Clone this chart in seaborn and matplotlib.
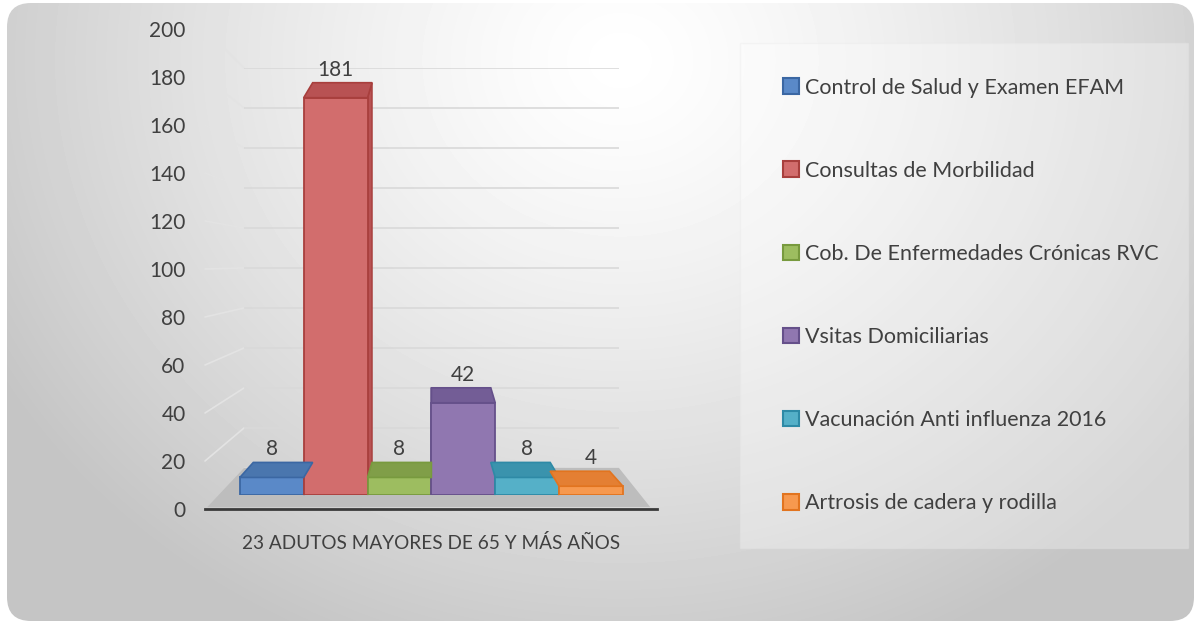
import numpy as np
import pandas as pd
import matplotlib
import matplotlib.pyplot as plt
import seaborn as sns
from matplotlib.patches import FancyBboxPatch, Rectangle, Polygon, Patch
from matplotlib.lines import Line2D

# data
grupo = "23 ADUTOS MAYORES DE 65 Y MÁS AÑOS"
series = ["Control de Salud y Examen EFAM", "Consultas de Morbilidad",
          "Cob. De Enfermedades Crónicas RVC", "Vsitas Domiciliarias",
          "Vacunación Anti influenza 2016", "Artrosis de cadera y rodilla"]
valores = [8, 181, 8, 42, 8, 4]
y_ticks = list(range(0, 201, 20))

colores = ["#5A89C8", "#D26D6D", "#9DBD60", "#9077B0", "#55B0C8", "#F7994F"]
bordes = ["#3B67A3", "#A83F3D", "#789A3E", "#65508A", "#2E8AA6", "#E2741F"]
caras = ["#4A76AE", "#B85253", "#809E48", "#735D96", "#3A93AD", "#E47F33"]

df = pd.DataFrame({"grupo": grupo, "serie": series, "valor": valores})

sns.set_style("white")
plt.rcParams["font.family"] = ["Lato", "DejaVu Sans"]
txt = "#404040"
fs = 15

W, H = 1199, 626
fig = plt.figure(figsize=(W / 100, H / 100), dpi=100)


def box(x0, y0, x1, y1):
    # pixel box -> figure fraction [left, bottom, width, height]
    return [x0 / W, 1 - y1 / H, (x1 - x0) / W, (y1 - y0) / H]


# background: rounded panel with a soft radial gradient
ax_bg = fig.add_axes([0, 0, 1, 1], zorder=-10)
ax_bg.set_xlim(0, W)
ax_bg.set_ylim(H, 0)
ax_bg.axis("off")
gx, gy = np.meshgrid(np.arange(W), np.arange(H))
d = np.sqrt(((gx - 620) / 720) ** 2 + ((gy - 60) / 640) ** 2)
grad = np.clip(1.0 - 0.23 * d ** 1.3, 0.77, 1.0)
im = ax_bg.imshow(grad, cmap="gray", vmin=0, vmax=1, extent=(0, W, H, 0), aspect="auto")
panel = FancyBboxPatch((7, 3), W - 12, H - 8, boxstyle="round,pad=0,rounding_size=24",
                       transform=ax_bg.transData, facecolor="none", edgecolor="none")
ax_bg.add_patch(panel)
im.set_clip_path(panel)

# legend area
ax_bg.add_patch(Rectangle((740, 43), 448, 505, facecolor="white", alpha=0.3,
                          edgecolor="#e8e8e8", lw=1))

# back wall with gridlines
ax_wall = fig.add_axes(box(244, 68, 619, 468))
ax_wall.set_ylim(0, 200)
ax_wall.set_xlim(0, 1)
ax_wall.set_yticks(y_ticks)
ax_wall.grid(axis="y", color="#d9d9d9", lw=1.2)
ax_wall.set_xticks([])
ax_wall.tick_params(left=False, labelleft=False)
ax_wall.patch.set_alpha(0)
sns.despine(ax=ax_wall, left=True, bottom=True)

# tick axis (front)
ax_tick = fig.add_axes(box(205, 29, 657, 509))
ax_tick.set_ylim(0, 200)
ax_tick.set_yticks(y_ticks)
ax_tick.set_yticklabels([str(v) for v in y_ticks], fontsize=fs, color=txt)
ax_tick.tick_params(axis="y", length=0, pad=14)
ax_tick.set_xticks([])
ax_tick.patch.set_alpha(0)
sns.despine(ax=ax_tick, left=True)
ax_tick.spines["bottom"].set_color("#3a3a3a")
ax_tick.spines["bottom"].set_linewidth(2)

to_fig = fig.transFigure.inverted()

# side wall lines from the tick positions to the back wall
for v in y_ticks[1:]:
    p0 = to_fig.transform(ax_tick.transData.transform((0, v)))
    p0[0] = 205 / W
    p1 = to_fig.transform(ax_wall.transData.transform((0, v)))
    fig.add_artist(Line2D([p0[0], p1[0]], [p0[1], p1[1]], color="#e3e3e3", lw=1.2,
                          transform=fig.transFigure, zorder=-2))

# floor
f0 = to_fig.transform(ax_tick.transAxes.transform((0.005, 0.004)))
f1 = to_fig.transform(ax_tick.transAxes.transform((0.985, 0.004)))
b0 = to_fig.transform(ax_wall.transAxes.transform((0, 0)))
b1 = to_fig.transform(ax_wall.transAxes.transform((1, 0)))
fig.add_artist(Polygon([f0, f1, b1, b0], closed=True, facecolor="#bdbdbd",
                       edgecolor="none", transform=fig.transFigure, zorder=-1))

# bars
ax = fig.add_axes(box(205, 56, 657, 495), zorder=1)
sns.barplot(data=df, x="grupo", y="valor", hue="serie", hue_order=series,
            palette=dict(zip(series, colores)), width=1.0, gap=0, saturation=1,
            legend=False, ax=ax)
ax.set_ylim(0, 200)
ax.set_xlim(-0.591, 0.589)
ax.patch.set_alpha(0)
ax.set_yticks([])
ax.set_xlabel("")
ax.set_ylabel("")
ax.tick_params(axis="x", length=0, pad=28, labelsize=13.7, labelcolor=txt)
sns.despine(ax=ax, left=True, bottom=True)

vp = 432  # horizontal vanishing point for the 3d faces (pixels)
k, dy = 0.93, 15
for cont, ec, cf in zip(ax.containers, bordes, caras):
    for p in cont.patches:
        p.set_edgecolor(ec)
        p.set_linewidth(1.3)
        x0, x1 = p.get_x(), p.get_x() + p.get_width()
        h = p.get_height()
        a = ax.transData.transform((x0, h))
        b = ax.transData.transform((x1, h))
        a0 = ax.transData.transform((x0, 0))
        b0_ = ax.transData.transform((x1, 0))
        c = (vp + (b[0] - vp) * k, b[1] + dy)
        e = (vp + (a[0] - vp) * k, a[1] + dy)
        # visible side face (right side left of the vanishing point, left side otherwise)
        if c[0] > b[0]:
            side = [b, c, (c[0], b0_[1] + dy), b0_]
        else:
            side = [a, e, (e[0], a0[1] + dy), a0]
        fig.add_artist(Polygon(to_fig.transform(side), closed=True, facecolor=cf,
                               edgecolor=ec, lw=1.0, transform=fig.transFigure,
                               zorder=0.5))
        fig.add_artist(Polygon(to_fig.transform([a, b, c, e]), closed=True, facecolor=cf,
                               edgecolor=ec, lw=1.2, transform=fig.transFigure, zorder=3))
    ax.bar_label(cont, labels=[str(int(v)) for v in cont.datavalues], padding=13,
                 fontsize=fs, color=txt)

# legend
handles = [Patch(facecolor=c, edgecolor=e, lw=1.5) for c, e in zip(colores, bordes)]
fig.legend(handles, series, loc="upper left", bbox_to_anchor=(772 / W, 1 - 67 / H),
           frameon=False, fontsize=15.5, labelcolor=txt, handlelength=0.75,
           handleheight=0.75, handletextpad=0.3, labelspacing=2.93, borderpad=0)

fig.savefig("out.png", dpi=100)
